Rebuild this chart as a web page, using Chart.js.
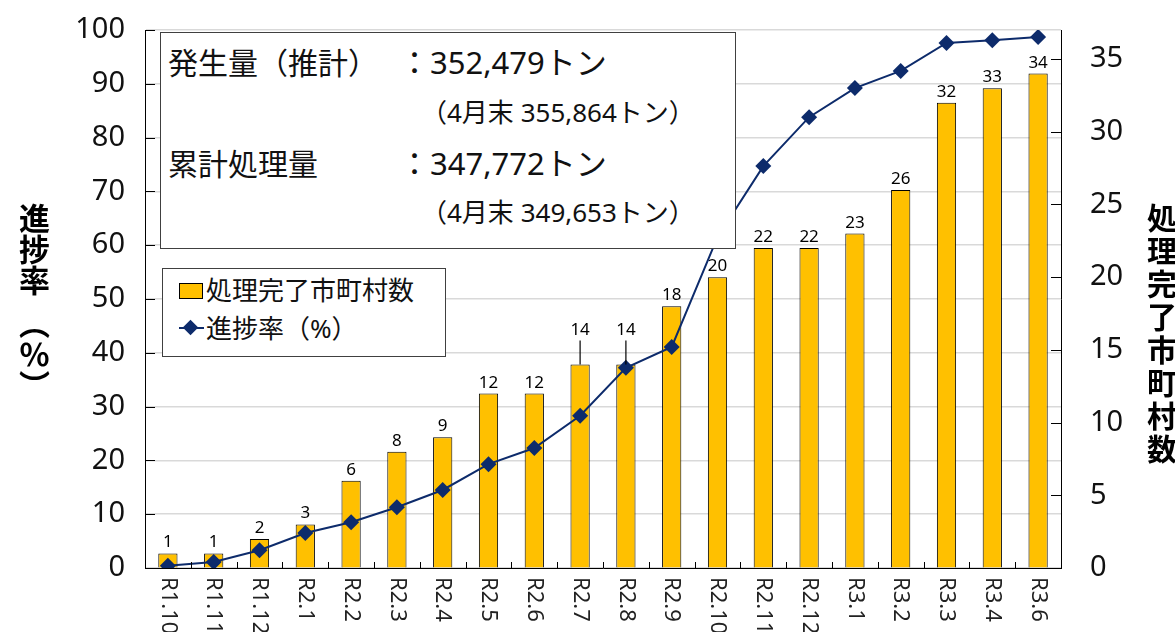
<!DOCTYPE html>
<html lang="ja">
<head>
<meta charset="utf-8">
<script src="https://cdn.jsdelivr.net/npm/chart.js@4"></script>
<style>
  body { margin: 0; background: #fff; font-family: 'Noto Sans', 'Noto Sans CJK JP', sans-serif; }
  #wrap { position: relative; width: 1175px; height: 632px; overflow: hidden; }
  canvas { position: absolute; left: 0; top: 0; }
  .box { position: absolute; background: #fff; border: 1px solid #404040; box-sizing: border-box; color: #111; }
  .t { position: absolute; white-space: nowrap; line-height: 1; }
  .vtitle { position: absolute; writing-mode: vertical-rl; font-family: 'Noto Sans CJK JP', sans-serif; font-weight: bold; color: #000; white-space: nowrap; }
</style>
</head>
<body>
<div id="wrap">
  <canvas id="chart" width="1175" height="632"></canvas>

  <div class="box" style="left:160px;top:32px;width:576px;height:217px;">
    <span class="t" style="left:7px;top:15px;font-size:30px;">発生量（推計）</span>
    <span class="t" style="left:238px;top:14px;font-size:31px;">：352,479トン</span>
    <span class="t" style="left:260px;top:66px;font-size:26px;">（4月末 355,864トン）</span>
    <span class="t" style="left:7px;top:116px;font-size:30px;">累計処理量</span>
    <span class="t" style="left:238px;top:115px;font-size:31px;">：347,772トン</span>
    <span class="t" style="left:260px;top:166px;font-size:26px;">（4月末 349,653トン）</span>
  </div>

  <div class="box" style="left:162px;top:268px;width:284px;height:89px;">
    <span style="position:absolute;left:16px;top:14px;width:24px;height:16px;background:#FFC000;border:1px solid #000;box-sizing:border-box;"></span>
    <span class="t" style="left:43px;top:8px;font-size:26px;">処理完了市町村数</span>
    <span style="position:absolute;left:16px;top:58px;width:25px;height:2px;background:#0D2B6B;"></span>
    <span style="position:absolute;left:22px;top:53px;width:11px;height:11px;background:#0D2B6B;transform:rotate(45deg);"></span>
    <span class="t" style="left:43px;top:46px;font-size:26px;">進捗率（%）</span>
  </div>

  <div class="vtitle" style="left:12px;top:203px;font-size:31px;">進捗率<span style="display:inline-block;height:12px;"></span>（％）</div>
  <div class="vtitle" style="left:1140px;top:203px;font-size:30px;letter-spacing:3px;">処理完了市町村数</div>
</div>

<script>
const months = ['R1.10', 'R1.11', 'R1.12', 'R2.1', 'R2.2', 'R2.3', 'R2.4', 'R2.5', 'R2.6', 'R2.7',
                'R2.8', 'R2.9', 'R2.10', 'R2.11', 'R2.12', 'R3.1', 'R3.2', 'R3.3', 'R3.4', 'R3.6'];
const completedTowns = [1, 1, 2, 3, 6, 8, 9, 12, 12, 14, 14, 18, 20, 22, 22, 23, 26, 32, 33, 34];
const progressRate = [0.4, 1.1, 3.3, 6.5, 8.5, 11.3, 14.5, 19.3, 22.3, 28.3,
                      37.2, 41.1, 61.5, 74.7, 83.8, 89.2, 92.4, 97.6, 98.1, 98.7];
const rightTicks = [0, 5, 10, 15, 20, 25, 30, 35];
const raisedLabels = [9, 10]; // R2.7, R2.8 have leader lines

const numFont = "'Noto Sans', 'Noto Sans CJK JP', sans-serif";
Chart.defaults.font.family = numFont;
Chart.defaults.color = '#000';

// bar values, inward ticks, rotated month labels
const extras = {
  id: 'extras',
  afterDraw(chart) {
    const ctx = chart.ctx;
    const x = chart.scales.x, y = chart.scales.y, y1 = chart.scales.y1;
    const area = chart.chartArea;
    ctx.save();

    // bar value labels
    const bars = chart.getDatasetMeta(1).data;
    ctx.font = '17px ' + numFont;
    ctx.fillStyle = '#000';
    ctx.textAlign = 'center';
    ctx.textBaseline = 'alphabetic';
    bars.forEach((bar, i) => {
      if (raisedLabels.includes(i)) {
        ctx.fillText(completedTowns[i], bar.x, bar.y - 29);
        ctx.strokeStyle = '#000';
        ctx.lineWidth = 1.2;
        ctx.beginPath();
        ctx.moveTo(bar.x, bar.y - 24);
        ctx.lineTo(bar.x, bar.y);
        ctx.stroke();
      } else {
        ctx.fillText(completedTowns[i], bar.x, bar.y - 6);
      }
    });

    // inward tick marks
    ctx.strokeStyle = '#000';
    ctx.lineWidth = 1;
    ctx.beginPath();
    for (let v = 10; v <= 100; v += 10) {
      const py = Math.round(y.getPixelForValue(v)) + 0.5;
      ctx.moveTo(area.left, py);
      ctx.lineTo(area.left + 10, py);
    }
    rightTicks.slice(1).forEach(v => {
      const py = Math.round(y1.getPixelForValue(v)) + 0.5;
      ctx.moveTo(area.right, py);
      ctx.lineTo(area.right - 10, py);
    });
    const step = (area.right - area.left) / months.length;
    for (let i = 1; i < months.length; i++) {
      const px = Math.round(area.left + step * i) + 0.5;
      ctx.moveTo(px, area.bottom);
      ctx.lineTo(px, area.bottom - 6);
    }
    ctx.stroke();

    // month labels, rotated clockwise
    ctx.font = '22px ' + numFont;
    ctx.fillStyle = '#222';
    ctx.textAlign = 'left';
    ctx.textBaseline = 'middle';
    months.forEach((m, i) => {
      ctx.save();
      ctx.translate(x.getPixelForValue(i), area.bottom + 9);
      ctx.rotate(Math.PI / 2);
      ctx.fillText(m, 0, 0);
      ctx.restore();
    });
    ctx.restore();
  }
};

new Chart(document.getElementById('chart'), {
  data: {
    labels: months,
    datasets: [
      {
        type: 'line',
        label: '進捗率（%）',
        data: progressRate,
        yAxisID: 'y',
        borderColor: '#0D2B6B',
        backgroundColor: '#0D2B6B',
        borderWidth: 2,
        pointStyle: 'rectRot',
        pointRadius: 8,
        pointBorderWidth: 0,
        tension: 0,
        order: 0
      },
      {
        type: 'bar',
        label: '処理完了市町村数',
        data: completedTowns,
        yAxisID: 'y1',
        backgroundColor: '#FFC000',
        borderColor: '#000',
        borderWidth: 1,
        barPercentage: 0.42,
        categoryPercentage: 1,
        order: 1
      }
    ]
  },
  options: {
    responsive: false,
    animation: false,
    devicePixelRatio: 1,
    layout: { padding: { top: 30, left: 0, right: 0, bottom: 0 } },
    plugins: { legend: { display: false }, tooltip: { enabled: false } },
    scales: {
      x: {
        type: 'category',
        offset: true,
        grid: { display: false },
        border: { color: '#000', width: 1 },
        ticks: { display: false },
        afterFit(s) { s.height = 64; }
      },
      y: {
        position: 'left',
        min: 0,
        max: 100,
        ticks: { stepSize: 10, font: { size: 29, lineHeight: 0.01 }, color: '#111', padding: 20 },
        grid: { color: '#d9d9d9', lineWidth: 1.5, drawTicks: false },
        border: { color: '#000', width: 1 },
        afterFit(s) { s.width = 145; }
      },
      y1: {
        position: 'right',
        min: 0,
        max: 37,
        afterBuildTicks(s) { s.ticks = rightTicks.map(v => ({ value: v })); },
        ticks: { font: { size: 29, lineHeight: 0.01 }, color: '#111', padding: 29 },
        grid: { drawOnChartArea: false, drawTicks: false },
        border: { color: '#000', width: 1 },
        afterFit(s) { s.width = 114; }
      }
    }
  },
  plugins: [extras]
});
</script>
</body>
</html>
